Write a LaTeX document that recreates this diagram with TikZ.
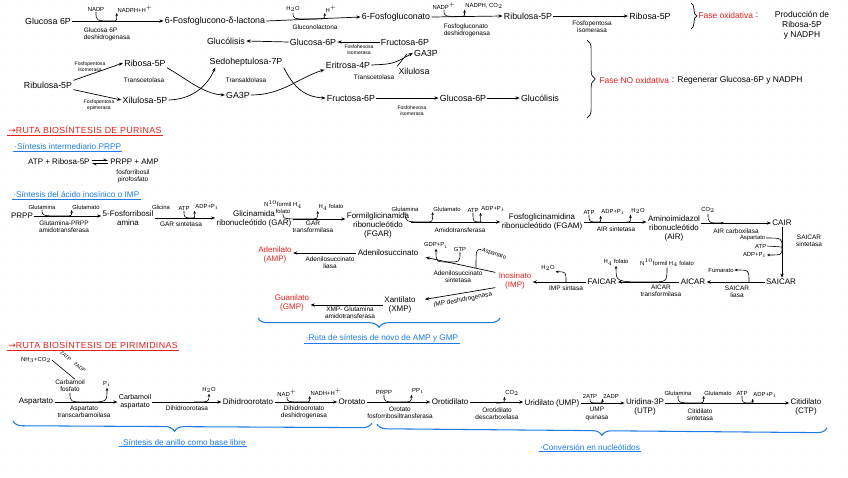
\documentclass[tikz,border=0pt]{standalone}
\usepackage{fontspec}
\setmainfont{Liberation Sans}
\newfontfamily\symfont{DejaVu Sans}
\usetikzlibrary{arrows.meta,decorations.pathreplacing,calc}
\definecolor{hred}{HTML}{E3211C}
\definecolor{hblue}{HTML}{1E7BE6}
\newcommand\dipcurve[3]{\draw[crv] (#1) .. controls (#1|-#2) .. (#2) .. controls (#3|-#2) .. (#3);}
\newcommand\outcurve[2]{\draw[crv] (#1) .. controls (#2|-#1) .. (#2);}
\newcommand\incurve[2]{\draw[crv] (#1) .. controls (#1|-#2) .. (#2);}
\begin{document}
\begin{tikzpicture}[x=0.85pt,y=-0.85pt,
 cmp/.style={font=\fontsize{7.5}{8.5}\selectfont,inner sep=1pt,align=center},
 cmpb/.style={font=\fontsize{6.8}{7.6}\selectfont,inner sep=1pt,align=center},
 lab/.style={font=\fontsize{5.5}{6.1}\selectfont,inner sep=0.5pt,align=center},
 cof/.style={font=\fontsize{5}{5.5}\selectfont,inner sep=0.5pt,align=center},
 tlab/.style={font=\fontsize{4.3}{4.8}\selectfont,inner sep=0.3pt,align=center},
 arr/.style={line width=0.6pt,-{Stealth[length=3.6pt,width=2.8pt]}},
 crv/.style={line width=0.5pt,-{Stealth[length=2.6pt,width=2.2pt]}},
 ln/.style={line width=0.5pt},
 hdr/.style={font=\fontsize{7.5}{8}\selectfont\addfontfeature{LetterSpace=4},text=hred,inner sep=1pt,anchor=west},
 bl/.style={font=\fontsize{7}{8}\selectfont,text=hblue,inner sep=1pt},
 fase/.style={font=\fontsize{7.2}{8.5}\selectfont,inner sep=1pt},
 bbrace/.style={draw=hblue,line width=0.9pt,decorate,decoration={brace,mirror,amplitude=8pt}},
 kbrace/.style={draw,line width=0.6pt,decorate,decoration={brace,amplitude=5pt}},
 uline/.style={line width=0.7pt},
 harp/.style={line width=0.6pt,-{Straight Barb[left,length=2.6pt,width=3pt]}},
]
\fill[white] (0,0) rectangle (848,477);
\useasboundingbox (0,0) rectangle (848,477);
\foreach \i in {0,...,56}{\foreach \j in {0,...,31}{\fill[black!16] (7+15*\i,5+15*\j) circle (0.35pt);}}

% ================= PENTOSAS FOSFATO =================
\node[cmp] (g6p) at (48,21) {Glucosa 6P};
\node[cmp] (lac) at (215,21) {6-Fosfoglucono-δ-lactona};
\node[cmp] (fgc) at (396,17) {6-Fosfogluconato};
\node[cmp] (ru5p) at (528,16) {Ribulosa-5P};
\node[cmp] (r5p) at (650,16) {Ribosa-5P};
\draw[arr] (g6p.east) -- (lac.west);
\draw[arr] (lac.east) -- (fgc.west);
\draw[arr] (fgc.east) -- (ru5p.west);
\draw[arr] (ru5p.east) -- (r5p.west);

\node[cof] (nadp1) at (96,9) {NADP};
\node[cof] (nadph1) at (135,9) {NADPH+H$^+$};
\coordinate (m1) at (113,21);
\dipcurve{nadp1.south}{m1}{nadph1.south west}
\node[lab,anchor=west,align=left] (e1) at (83,34) {Glucosa 6P\\deshidrogenasa};

\node[cof] (h2o1) at (293,9) {H$_2$O};
\node[cof] (hp1) at (331,9) {H$^+$};
\coordinate (m2) at (311,19);
\dipcurve{h2o1.south}{m2}{hp1.south west}
\node[lab] (e2) at (315,27) {Gluconolactona};

\node[cof] (nadpp) at (444,6) {NADP$^+$};
\node[cof] (nadph2) at (484,6) {NADPH, CO$_2$};
\coordinate (m3) at (461,16.5);
\dipcurve{nadpp.south}{m3}{nadph2.south west}
\node[lab,anchor=west,align=left] (e3) at (443,30) {Fosfogluconato\\deshidrogenasa};
\node[lab] (e4) at (592,27) {Fosfopentosa\\isomerasa};

\draw[kbrace] (691,3) -- (691,29);
\node[fase,text=hred,anchor=west] (fox) at (697,15) {Fase oxidativa};
\node[fase,anchor=west] (fox2) at (fox.east) {:};
\node[fase,align=center,anchor=north] (fox3) at (802,10) {Producción de\\Ribosa-5P\\y NADPH};

% row 2
\node[cmp] (gly1) at (226,41) {Glucólisis};
\node[cmp] (g6p2) at (313,42) {Glucosa-6P};
\node[cmp] (f6p1) at (405,42) {Fructosa-6P};
\draw[arr] (g6p2.west) -- (gly1.east);
\draw[arr] (f6p1.west) -- (g6p2.east);
\node[tlab] (e5) at (359,50) {Fosfohexosa\\isomerasa};
\node[cmp] (ga3p1) at (426,53) {GA3P};
\node[cmp] (e4p) at (348,65) {Eritrosa-4P};
\node[cmp] (xil) at (414,71) {Xilulosa};
\node[lab] (e6) at (374,77) {Transcetolasa};
\draw[arr] (e4p.east) .. controls (393,64) .. (ga3p1.west);
\coordinate (xtop) at (407,54);
\draw[ln] (xil.north west) -- (xtop);

% row 3
\node[cmp] (ribu2) at (48,85) {Ribulosa-5P};
\node[cmp] (r5p2) at (145,63) {Ribosa-5P};
\node[cmp] (x5p) at (145,100) {Xilulosa-5P};
\node[lab] (tc1) at (144,80) {Transcetolasa};
\draw[arr] (ribu2.north east) -- (r5p2.west);
\draw[arr] (ribu2.south east) -- (x5p.west);
\node[tlab] (e7) at (90,67) {Fosfopentosa\\isomerasa};
\node[tlab] (e8) at (99,105) {Fosfopentosa\\epimerasa};
\node[cmp] (s7p) at (246,62) {Sedoheptulosa-7P};
\node[lab] (ta) at (246,80) {Transaldolasa};
\node[cmp] (ga3p2) at (238,95) {GA3P};
\draw[arr] (r5p2.south east) .. controls (188,80) and (204,94) .. (ga3p2.west);
\draw[arr] (x5p.east) .. controls (195,99) and (208,84) .. ($(s7p.south west)+(7,0)$);
\node[cmp] (f6p2) at (351,98) {Fructosa-6P};
\node[cmp] (g6p3) at (463,98) {Glucosa-6P};
\node[cmp] (gly2) at (540,98) {Glucólisis};
\draw[arr] (s7p.south east) .. controls (292,84) and (302,97) .. (f6p2.west);
\draw[arr] (ga3p2.east) .. controls (282,95) and (298,78) .. (e4p.south west);
\draw[arr] (f6p2.east) -- (g6p3.west);
\draw[arr] (g6p3.east) -- (gly2.west);
\node[tlab] (e9) at (412,111) {Fosfohexosa\\isomerasa};

\draw[kbrace,decoration={amplitude=7pt}] (587,40) -- (587,118);
\node[fase,text=hred,anchor=west] (fno) at (598,80) {Fase NO oxidativa};
\node[fase,anchor=west] (fno2) at (fno.east) {: Regenerar Glucosa-6P y NADPH};

% ================= PURINAS =================
\node[hdr] (hp) at (7,130) {{\symfont →}RUTA BIOSÍNTESIS DE PURINAS};
\draw[uline,hred] (hp.south west) -- (hp.south east);
\node[bl,anchor=west] (b1) at (13,147) {·Síntesis intermediario PRPP};
\draw[uline,hblue] (b1.south west) -- (b1.south east);
\node[cmpb,anchor=east] (eqL) at (91,162) {ATP + Ribosa-5P};
\node[cmpb,anchor=west] (eqR) at (109,162) {PRPP + AMP};
\draw[harp] ($(eqL.east)+(1,-1.5)$) -- ($(eqR.west)+(-1,-1.5)$);
\draw[harp] ($(eqR.west)+(-1,1.5)$) -- ($(eqL.east)+(1,1.5)$);
\node[lab] (fpp) at (133,176) {fosforribosil\\pirofosfato};
\node[bl,anchor=west] (b2) at (12,195) {·Síntesis del ácido inosínico o IMP};
\draw[uline,hblue] (b2.south west) -- (b2.south east);

\node[cmpb] (prpp) at (22,216) {PRPP};
\node[cmpb] (fra) at (128,218) {5-Fosforribosil\\amina};
\node[cmpb] (gar) at (254,219) {Glicinamida\\ribonucleótido (GAR)};
\node[cmpb] (fgar) at (378,225) {Formilglicinamida\\ribonucleótido\\(FGAR)};
\node[cmpb] (fgam) at (542,222) {Fosfoglicinamidina\\ribonucleótido (FGAM)};
\node[cmpb] (air) at (674,228) {Aminoimidazol\\ribonucleótido\\(AIR)};
\node[cmpb] (cair) at (782,223) {CAIR};
\draw[arr] (prpp.east) -- (prpp.east -| fra.west);
\draw[arr] (fra.east) -- (fra.east -| gar.west);
\draw[arr] (gar.east) -- (gar.east -| fgar.west);
\draw[arr] (fgar.east |- fgam.west) -- (fgam.west);
\draw[arr] (fgam.east) -- (fgam.east -| air.west);
\draw[arr] (air.east |- cair.west) -- (cair.west);

\node[cof] (glna1) at (42,207) {Glutamina};
\node[cof] (glu1) at (86,207) {Glutamato};
\coordinate (m4) at (64,216);
\dipcurve{glna1.south}{m4}{glu1.south west}
\node[lab] (e10) at (64,227) {Glutamina-PRPP\\amidotransferasa};

\node[cof] (glic) at (161,207) {Glicina};
\node[cof] (atp1) at (184,208) {ATP};
\node[cof] (adp1) at (207,207) {ADP+P$_i$};
\coordinate (m5) at (194,218);
\dipcurve{atp1.south}{m5}{adp1.south west}
\node[lab] (e11) at (181,224) {GAR sintetasa};

\node[cof] (n10a) at (283,207) {N$^{10}$formil H$_4$\\folato};
\node[cof] (h4a) at (331,207) {H$_4$ folato};
\coordinate (m6) at (309,219);
\dipcurve{n10a.south}{m6}{h4a.south west}
\node[lab] (e12) at (313,227) {GAR\\transformilasa};

\node[cof] (glna2) at (405,209) {Glutamina};
\node[cof] (glu2) at (447,209) {Glutamato};
\coordinate (m7) at (426,222);
\dipcurve{glna2.south}{m7}{glu2.south west}
\node[cof] (atp2) at (473,210) {ATP};
\node[cof] (adp2) at (493,209) {ADP+P$_i$};
\coordinate (m8) at (481,222);
\dipcurve{atp2.south}{m8}{adp2.south west}
\node[lab] (e13) at (460,230) {Amidotransferasa};

\node[cof] (atp3) at (589,212) {ATP};
\node[cof] (adp3) at (613,212) {ADP+P$_i$};
\node[cof] (h2o3) at (638,211) {H$_2$O};
\coordinate (m9) at (599,222);
\dipcurve{atp3.south}{m9}{adp3.south west}
\coordinate (m10) at (627,222);
\outcurve{m10}{h2o3.south west}
\node[lab] (e14) at (616,229) {AIR sintetasa};

\node[cof] (co2a) at (708,210) {CO$_2$};
\coordinate (m11) at (724,223);
\incurve{co2a.south}{m11}
\node[lab] (e15) at (736,231) {AIR carboxilasa};

\node[cmpb] (saicar) at (781,282) {SAICAR};
\draw[arr] (cair.south) -- (cair.south |- saicar.north);
\node[cof,anchor=east] (asp1) at (766,238) {Aspartato};
\node[cof,anchor=east] (atp4) at (767,246) {ATP};
\node[cof,anchor=east] (adp4) at (767,255) {ADP+P$_i$};
\coordinate (mS) at (782,247);
\draw[ln] (asp1.east) .. controls (mS|-asp1.east) .. (mS);
\draw[ln] (atp4.east) -- (mS);
\draw[crv] (mS) .. controls (mS|-adp4.east) .. (adp4.east);
\node[lab] (e16) at (809,241) {SAICAR\\sintetasa};

\node[cmpb] (aicar) at (693,282) {AICAR};
\draw[arr] (saicar.west) -- (aicar.east);
\node[cof] (fum) at (721,270) {Fumarato};
\coordinate (mF) at (749,282);
\draw[crv] (mF) .. controls (mF|-fum.east) .. (fum.east);
\node[lab] (e17) at (737,292) {SAICAR\\liasa};

\node[cmpb] (faicar) at (602,282) {FAICAR};
\draw[arr] (aicar.west) -- (faicar.east);
\node[cof] (n10b) at (667,263) {N$^{10}$formil H$_4$ folato};
\node[cof] (h4b) at (616,262) {H$_4$ folato};
\coordinate (m12) at (649,282);
\dipcurve{n10b.south}{m12}{h4b.south}
\node[lab] (e18) at (661,291) {AICAR\\transformilasa};

\node[cmpb,text=hred] (ino) at (515,281) {Inosinato\\(IMP)};
\draw[arr] (faicar.west) -- (faicar.west -| ino.east);
\node[cof] (h2o4) at (548,268) {H$_2$O};
\coordinate (mH) at (566,282);
\draw[crv] (mH) .. controls (mH|-h2o4.south) .. (h2o4.south east);
\node[lab] (e19) at (566,288) {IMP sintasa};

\node[cmpb] (adsuc) at (388,253) {Adenilosuccinato};
\node[cmpb,text=hred] (amp) at (275,255) {Adenilato\\(AMP)};
\draw[arr] (adsuc.west) -- (adsuc.west -| amp.east);
\node[lab] (e20) at (330,263) {Adenilosuccinato\\liasa};
\draw[arr] ($(ino.north west)+(-2,1)$) -- ($(adsuc.south east)+(6,0)$);
\node[cof] (gdp) at (436,245) {GDP+P$_i$};
\node[cof] (gtp) at (460,249) {GTP};
\node[cof,rotate=-20] (asp2) at (494,254) {Aspartato};
\coordinate (mGT) at (449,262);
\dipcurve{gtp.south}{mGT}{gdp.south}
\coordinate (mAs) at (476,268);
\draw[ln] (asp2.west) .. controls (mAs|-asp2.west) .. (mAs);
\node[lab] (e21) at (458,277) {Adenilosuccinato\\sintetasa};

\node[cmpb] (xmp) at (400,305) {Xantilato\\(XMP)};
\node[cmpb,text=hred] (gmp) at (292,303) {Guanilato\\(GMP)};
\draw[arr] ($(ino.south west)+(-2,-3)$) -- ($(xmp.north east)+(8,4)$);
\node[lab,rotate=11] (e22) at (463,300) {IMP deshidrogenasa};
\draw[arr] (xmp.west) -- (xmp.west -| gmp.east);
\node[lab] (e23) at (350,313) {XMP- Glutamina\\amidotransferasa};

\draw[bbrace,decoration={aspect=0.5}] (258,318) -- (500,318);
\node[bl] (b3) at (382,338) {·Ruta de síntesis de novo de AMP y GMP};
\draw[uline,hblue] (b3.south west) -- (b3.south east);

% ================= PIRIMIDINAS =================
\node[hdr] (hpy) at (7,345) {{\symfont →}RUTA BIOSÍNTESIS DE PIRIMIDINAS};
\draw[uline,hred] (hpy.south west) -- (hpy.south east);

\node[cof] (nh3) at (36,360) {NH$_3$+CO$_2$};
\node[lab] (carbP) at (70,386) {Carbamoil\\fosfato};
\draw[ln] (nh3.east) -- ($(carbP.north)+(5,0)$);
\node[tlab,rotate=-38] (atpadp) at (73,362) {2ATP\quad 2ADP};
\node[cof] (pi1) at (107,384) {P$_i$};
\coordinate (m13) at (87,402);
\dipcurve{carbP.south}{m13}{pi1.south}

\node[cmpb] (aspP) at (36,402) {Aspartato};
\node[cmpb,font=\fontsize{6}{6.8}\selectfont] (carbAsp) at (135,402) {Carbamoil\\aspartato};
\draw[arr] (aspP.east) -- (aspP.east -| carbAsp.west);
\node[lab] (e24) at (84,412) {Aspartato\\transcarbamoilasa};

\node[cmpb] (dho) at (248,402) {Dihidroorotato};
\draw[arr] (carbAsp.east) -- (carbAsp.east -| dho.west);
\node[cof] (h2o5) at (209,390) {H$_2$O};
\coordinate (m14) at (194,402);
\outcurve{m14}{h2o5.south}
\node[lab] (e25) at (187,408) {Dihidroorotasa};

\node[cmpb] (oro) at (352,402) {Orotato};
\draw[arr] (dho.east) -- (oro.west);
\node[cof] (nad) at (287,393) {NAD$^+$};
\node[cof] (nadh) at (326,392) {NADH+H$^+$};
\coordinate (m15) at (305,402);
\dipcurve{nad.south}{m15}{nadh.south west}
\node[lab] (e26) at (304,412) {Dihidroorotato\\deshidrogenasa};

\node[cmpb] (orot) at (450,402) {Orotidilato};
\draw[arr] (oro.east) -- (orot.west);
\node[cof] (prpp2) at (384,392) {PRPP};
\node[cof] (ppi) at (418,391) {PP$_i$};
\coordinate (m16) at (400,402);
\dipcurve{prpp2.south}{m16}{ppi.south west}
\node[lab] (e27) at (400,413) {Orotato\\fosforribosiltransferasa};

\node[cmpb] (ump) at (552,403) {Uridilato (UMP)};
\draw[arr] (orot.east) -- (orot.east -| ump.west);
\node[cof] (co2b) at (512,393) {CO$_2$};
\coordinate (m17) at (496,403);
\outcurve{m17}{co2b.south west}
\node[lab] (e28) at (497,414) {Orotidilato\\descarboxilasa};

\node[cmpb] (utp) at (645,407) {Uridina-3P\\(UTP)};
\draw[arr] (ump.east) -- (ump.east -| utp.west);
\node[cof] (atp5) at (590,396) {2ATP};
\node[cof] (adp5) at (611,396) {2ADP};
\coordinate (m18) at (600,403);
\dipcurve{atp5.south}{m18}{adp5.south west}
\node[lab] (e29) at (597,414) {UMP\\quinasa};

\node[cmpb] (ctp) at (806,407) {Citidilato\\(CTP)};
\draw[arr] (utp.east |- ump.east) -- (ctp.west |- ump.east);
\node[cof] (glna3) at (678,393) {Glutamina};
\node[cof] (glu3) at (718,393) {Glutamato};
\coordinate (m19) at (697,403);
\dipcurve{glna3.south}{m19}{glu3.south west}
\node[cof] (atp6) at (742,393) {ATP};
\node[cof] (adp6) at (765,395) {ADP+P$_i$};
\coordinate (m20) at (751,403);
\dipcurve{atp6.south}{m20}{adp6.south west}
\node[lab] (e30) at (700,415) {Citidilato\\sintetasa};

\draw[bbrace,decoration={aspect=0.45}] (13,421) -- (372,423);
\draw[bbrace,decoration={aspect=0.5}] (377,424) -- (827,428);
\node[bl] (b4) at (183,442) {·Síntesis de anillo como base libre};
\draw[uline,hblue] (b4.south west) -- (b4.south east);
\node[bl] (b5) at (590,447) {·Conversión en nucleótidos};
\draw[uline,hblue] (b5.south west) -- (b5.south east);
\end{tikzpicture}
\end{document}
